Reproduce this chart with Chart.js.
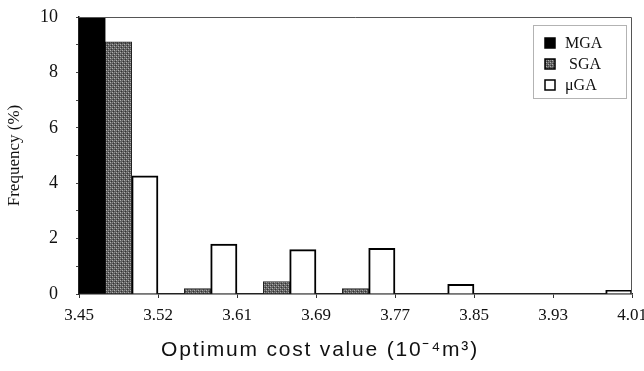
<!DOCTYPE html>
<html>
<head>
<meta charset="utf-8">
<script src="https://cdn.jsdelivr.net/npm/chart.js@4"></script>
<style>
  html, body { margin: 0; padding: 0; background: #fff; }
  #wrap { width: 644px; height: 371px; }
</style>
</head>
<body>
<div id="wrap"><canvas id="histChart" width="644" height="371"></canvas></div>
<script>
// Bin edges shown on the x axis
const tickLabels = ['3.45', '3.52', '3.61', '3.69', '3.77', '3.85', '3.93', '4.01'];
// One bin between each pair of edges
const binLabels = tickLabels.slice(0, 7).map((t, i) => t + '-' + tickLabels[i + 1]);

const mgaValues = [10, 0, 0, 0, 0, 0, 0];
const sgaValues = [9.1, 0.2, 0.45, 0.2, 0, 0, 0];
const ugaValues = [4.27, 1.8, 1.6, 1.65, 0.35, 0, 0.13];

const xTitle = 'Optimum cost value (10⁻⁴m³)';

// stippled grey fill for SGA
function makeStipple() {
    const c = document.createElement('canvas');
    c.width = 4; c.height = 4;
    const g = c.getContext('2d');
    g.fillStyle = '#5e5e5e';
    g.fillRect(0, 0, 4, 4);
    g.fillStyle = '#b0b0b0';
    g.fillRect(0, 0, 1, 1);
    g.fillRect(2, 2, 1, 1);
    g.fillStyle = '#8a8a8a';
    g.fillRect(2, 0, 1, 1);
    g.fillRect(0, 2, 1, 1);
    g.fillStyle = '#333';
    g.fillRect(1, 3, 1, 1);
    g.fillRect(3, 1, 1, 1);
    return g.createPattern(c, 'repeat');
}
const stipple = makeStipple();

const serif = '"Liberation Serif", "DejaVu Serif", serif';

const frameAndLegend = {
    id: 'frameAndLegend',
    afterDraw(chart) {
        const { ctx, chartArea: a } = chart;
        ctx.save();
        // top and right edges of the frame
        ctx.strokeStyle = '#555';
        ctx.lineWidth = 1;
        ctx.beginPath();
        ctx.moveTo(a.left, a.top + 0.5);
        ctx.lineTo(a.right - 0.5, a.top + 0.5);
        ctx.lineTo(a.right - 0.5, a.bottom);
        ctx.stroke();

        // legend box
        const bx = a.right - 99, by = a.top + 8, bw = 93, bh = 73;
        ctx.setLineDash([1, 1]);
        ctx.strokeStyle = '#666';
        ctx.strokeRect(bx + 0.5, by + 0.5, bw, bh);
        ctx.setLineDash([]);

        const items = chart.data.datasets;
        ctx.font = '16px ' + serif;
        ctx.textBaseline = 'middle';
        ctx.textAlign = 'left';
        items.forEach((ds, i) => {
            const cy = by + 18 + i * 21;
            const mx = bx + 12;
            ctx.fillStyle = ds.backgroundColor;
            ctx.fillRect(mx, cy - 5, 10, 10);
            ctx.strokeStyle = '#000';
            ctx.lineWidth = 1.5;
            ctx.strokeRect(mx, cy - 5, 10, 10);
            ctx.fillStyle = '#111';
            ctx.fillText(ds.label, bx + 32 + (i === 1 ? 4 : 0), cy + 1);
        });

        // x axis title, spaced out like the original
        ctx.font = '21px "Liberation Sans", Arial, sans-serif';
        ctx.letterSpacing = '1.8px';
        ctx.textAlign = 'center';
        ctx.fillStyle = '#111';
        ctx.fillText(xTitle, 320, 350);
        ctx.restore();
    }
};

new Chart(document.getElementById('histChart'), {
    type: 'bar',
    data: {
        labels: binLabels,
        datasets: [
            { label: 'MGA', data: mgaValues, backgroundColor: '#000', borderColor: '#000', borderWidth: 1 },
            { label: 'SGA', data: sgaValues, backgroundColor: stipple, borderColor: '#222', borderWidth: 1 },
            { label: 'μGA', data: ugaValues, backgroundColor: '#fff', borderColor: '#000', borderWidth: 2 }
        ]
    },
    options: {
        responsive: false,
        animation: false,
        devicePixelRatio: 1,
        layout: { padding: { top: 17, right: 12, left: 0, bottom: 0 } },
        datasets: { bar: { categoryPercentage: 1.0, barPercentage: 1.0, borderSkipped: 'bottom' } },
        plugins: {
            legend: { display: false },
            tooltip: { enabled: false }
        },
        scales: {
            x: {
                type: 'category',
                display: false,
                offset: true
            },
            x2: {
                type: 'linear',
                position: 'bottom',
                min: 0,
                max: 7,
                offset: false,
                grid: { offset: false, drawOnChartArea: false, drawTicks: true, tickLength: 4, color: '#333' },
                border: { color: '#222', width: 1.5 },
                ticks: {
                    stepSize: 1,
                    autoSkip: false,
                    maxRotation: 0,
                    padding: 7,
                    color: '#111',
                    font: { family: serif, size: 17 },
                    callback: v => tickLabels[v]
                },
                afterFit: s => { s.height = 77; s.paddingLeft = 0; s.paddingRight = 0; }
            },
            y: {
                min: 0,
                max: 10,
                grid: { drawOnChartArea: false, drawTicks: true, tickLength: 3, color: '#444' },
                border: { color: '#222', width: 1.5 },
                ticks: {
                    stepSize: 1,
                    autoSkip: false,
                    padding: 18,
                    color: '#111',
                    font: { family: serif, size: 18 },
                    callback: v => (v % 2 === 0 ? String(v) : '')
                },
                title: {
                    display: true,
                    text: 'Frequency (%)',
                    color: '#111',
                    font: { family: serif, size: 17 },
                    padding: { top: 4, bottom: 0 }
                },
                afterFit: s => { s.width = 79; s.paddingTop = 0; s.paddingBottom = 0; }
            }
        }
    },
    plugins: [frameAndLegend]
});
</script>
</body>
</html>
